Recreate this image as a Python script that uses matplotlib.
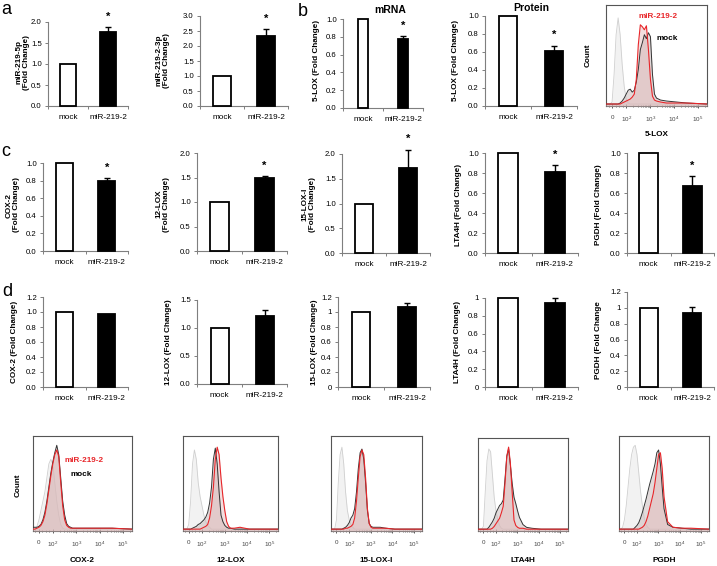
import matplotlib
matplotlib.use('Agg')
import matplotlib.pyplot as plt
import numpy as np

plt.rcParams['font.family'] = ['Liberation Sans', 'DejaVu Sans']
plt.rcParams['mathtext.default'] = 'regular'

W, H = 717, 566
fig = plt.figure(figsize=(W / 100, H / 100), dpi=100)

# ---------------- bar data ----------------
groups = ['mock', 'miR-219-2']
a_5p = [1.0, 1.77];   a_5p_err = [0.0, 0.11]
a_3p = [1.0, 2.33];   a_3p_err = [0.0, 0.22]
b_mrna = [1.0, 0.78]; b_mrna_err = [0.0, 0.03]
b_prot = [1.0, 0.61]; b_prot_err = [0.0, 0.06]
c_cox2 = [1.0, 0.80];  c_cox2_err = [0.0, 0.03]
c_12lox = [1.0, 1.49]; c_12lox_err = [0.0, 0.04]
c_15lox = [1.0, 1.71]; c_15lox_err = [0.0, 0.38]
c_lta4h = [1.0, 0.815]; c_lta4h_err = [0.0, 0.065]
c_pgdh = [1.0, 0.67];  c_pgdh_err = [0.0, 0.10]
d_cox2 = [1.0, 0.98];  d_cox2_err = [0.0, 0.0]
d_12lox = [1.0, 1.22]; d_12lox_err = [0.0, 0.11]
d_15lox = [1.0, 1.07]; d_15lox_err = [0.0, 0.05]
d_lta4h = [1.0, 0.94]; d_lta4h_err = [0.0, 0.055]
d_pgdh = [1.0, 0.94];  d_pgdh_err = [0.0, 0.07]

# ---------------- flow histogram data (channel grid, % of box height) ----------------
chan = [0, 20, 40, 60, 80, 100, 120, 140, 160, 180, 200, 220, 240, 260, 280, 300,
        320, 340, 360, 380, 400, 420, 440, 460, 480, 500, 540, 600, 700, 800, 1000]
flow_tick_chan = [60, 200, 437, 674, 910]
flow_tick_labels = ['0', '$10^2$', '$10^3$', '$10^4$', '$10^5$']

lox5_iso = [0, 0, 0, 2, 30, 70, 87, 70, 40, 18, 5, 1, 0, 0, 0, 0, 0, 0, 0, 0, 0, 0, 0, 0, 0, 0, 0, 0, 0, 0, 0]
lox5_mock = [0, 0, 0, 0, 0, 0, 0, 1, 3, 6, 10, 14, 15, 12, 14, 22, 35, 55, 62, 70, 66, 72, 68, 30, 10, 6, 4, 3, 2, 1, 0]
lox5_mir = [0, 0, 0, 0, 0, 0, 0, 0, 1, 2, 3, 4, 5, 7, 10, 25, 60, 80, 78, 75, 79, 55, 25, 8, 4, 3, 2, 1, 1, 1, 0]

cox2_iso = [0, 0, 3, 10, 20, 30, 40, 55, 70, 75, 70, 50, 30, 15, 5, 1, 0, 0, 0, 0, 0, 0, 0, 0, 0, 0, 0, 0, 0, 0, 0]
cox2_mock = [2, 2, 2, 3, 5, 10, 18, 30, 45, 60, 72, 82, 90, 80, 55, 30, 15, 6, 3, 2, 1, 1, 1, 1, 1, 1, 1, 1, 1, 1, 0]
cox2_mir = [0, 0, 1, 2, 4, 8, 15, 27, 42, 57, 70, 80, 85, 78, 50, 25, 10, 4, 2, 1, 1, 1, 1, 1, 1, 1, 1, 1, 1, 1, 0]

lox12_iso = [0, 0, 0, 5, 30, 70, 85, 75, 50, 35, 25, 15, 8, 4, 2, 0, 0, 0, 0, 0, 0, 0, 0, 0, 0, 0, 0, 0, 0, 0, 0]
lox12_mock = [0, 0, 0, 0, 0, 1, 2, 3, 5, 6, 8, 10, 13, 18, 28, 45, 75, 87, 70, 40, 15, 8, 4, 2, 1, 1, 0, 0, 0, 0, 0]
lox12_mir = [0, 0, 0, 0, 0, 0, 0, 0, 0, 0, 1, 2, 3, 5, 12, 25, 45, 75, 88, 80, 55, 35, 20, 8, 3, 1, 1, 2, 0, 0, 0]

lox15_iso = [0, 0, 0, 10, 50, 80, 88, 70, 40, 20, 10, 5, 2, 0, 0, 0, 0, 0, 0, 0, 0, 0, 0, 0, 0, 0, 0, 0, 0, 0, 0]
lox15_mock = [0, 0, 0, 0, 0, 0, 0, 1, 2, 4, 7, 12, 15, 22, 40, 65, 82, 86, 75, 50, 20, 6, 3, 2, 2, 2, 2, 1, 0, 0, 0]
lox15_mir = [0, 0, 0, 0, 0, 0, 0, 0, 1, 1, 2, 3, 5, 12, 30, 55, 78, 85, 80, 55, 22, 6, 2, 1, 1, 1, 1, 1, 0, 0, 0]

lta4h_iso = [0, 0, 0, 3, 40, 75, 88, 85, 60, 35, 20, 10, 4, 1, 0, 0, 0, 0, 0, 0, 0, 0, 0, 0, 0, 0, 0, 0, 0, 0, 0]
lta4h_mock = [0, 0, 0, 0, 0, 0, 2, 5, 8, 12, 18, 22, 26, 28, 32, 55, 80, 88, 70, 50, 35, 28, 20, 13, 9, 5, 2, 1, 0, 0, 0]
lta4h_mir = [0, 0, 0, 0, 0, 0, 0, 0, 1, 3, 6, 9, 12, 18, 25, 50, 80, 90, 72, 40, 10, 4, 2, 1, 1, 1, 0, 0, 0, 0, 0]

pgdh_iso = [0, 0, 2, 10, 25, 45, 65, 80, 88, 90, 80, 60, 40, 25, 12, 5, 2, 0, 0, 0, 0, 0, 0, 0, 0, 0, 0, 0, 0, 0, 0]
pgdh_mock = [0, 0, 0, 0, 0, 0, 0, 0, 0, 2, 4, 7, 12, 18, 25, 32, 40, 48, 55, 62, 70, 82, 85, 70, 45, 22, 5, 2, 1, 0, 0]
pgdh_mir = [0, 0, 0, 0, 0, 0, 0, 0, 0, 0, 0, 0, 1, 2, 4, 8, 14, 22, 30, 38, 50, 65, 80, 82, 65, 35, 8, 2, 1, 1, 0]

AXC = '#7f7f7f'
TICK_FS = 5.6
LAB_FS = 5.9


def px_axes(x0, y0, x1, y1):
    return fig.add_axes([x0 / W, 1 - y1 / H, (x1 - x0) / W, (y1 - y0) / H])


def bar_panel(rect, vals, errs, ylim, yticks, yticklabels, ylabel, ylabel_xy,
              bar_w=0.42, star=True):
    ax = px_axes(*rect)
    x = np.arange(len(groups))
    ax.bar(x, vals, width=bar_w, color=['white', 'black'], edgecolor='black',
           linewidth=1.3, zorder=3, clip_on=False)
    if errs[1] > 0:
        ax.errorbar(x[1], vals[1], yerr=[[0], [errs[1]]], fmt='none', ecolor='black',
                    elinewidth=1.0, capsize=2.5, capthick=1.0, zorder=2, clip_on=False)
    if star:
        ax.annotate('*', xy=(x[1], vals[1] + errs[1]), xytext=(0, 7.5),
                    textcoords='offset points', ha='center', va='center',
                    fontsize=8, fontweight='bold', annotation_clip=False)
    ax.set_xlim(-0.5, 1.5)
    ax.set_ylim(*ylim)
    ax.set_yticks(yticks)
    ax.set_yticklabels(yticklabels)
    ax.set_xticks(x)
    ax.set_xticklabels(groups)
    ax.set_xticks([-0.5, 0.5, 1.5], minor=True)
    ax.tick_params(axis='x', which='major', length=0, labelsize=LAB_FS, pad=6)
    ax.tick_params(axis='x', which='minor', length=2.5, width=0.7, color=AXC, direction='out')
    ax.tick_params(axis='y', length=2.5, width=0.7, color=AXC, labelsize=TICK_FS, pad=2)
    for s in ['top', 'right']:
        ax.spines[s].set_visible(False)
    for s in ['left', 'bottom']:
        ax.spines[s].set_color(AXC)
        ax.spines[s].set_linewidth(0.8)
    ax.patch.set_alpha(0)
    fig.text(ylabel_xy[0] / W, 1 - ylabel_xy[1] / H, ylabel, rotation=90,
             ha='center', va='center', fontsize=LAB_FS, fontweight='bold',
             multialignment='center', linespacing=1.1)
    return ax


def flow_panel(rect, iso, mock, mir, xlabel, xlabel_y, count_xy=None, legend_xy=None):
    ax = px_axes(*rect)
    ax.fill_between(chan, iso, -2, color='#f2f2f2', lw=0, zorder=1)
    ax.plot(chan, iso, color='#cfcfcf', lw=0.6, zorder=2)
    ax.fill_between(chan, mock, -2, color='#cbbdbd', alpha=0.55, lw=0, zorder=3)
    ax.fill_between(chan, mir, -2, color='#e3b8b8', alpha=0.45, lw=0, zorder=3)
    ax.plot(chan, mock, color='#333333', lw=0.7, zorder=4)
    ax.plot(chan, mir, color='#e8262a', lw=0.8, zorder=5)
    ax.set_xlim(0, 1000)
    ax.set_ylim(-2, 100)
    ax.set_yticks([])
    ax.set_xticks(flow_tick_chan)
    ax.set_xticklabels(flow_tick_labels)
    minor = []
    for dec in [2, 3, 4]:
        for k in range(2, 10):
            minor.append(200 + 237 * (dec - 2 + np.log10(k)))
    minor += [910 + 237 * np.log10(2)]
    minor += [95, 130, 165, 25]
    ax.set_xticks(minor, minor=True)
    ax.tick_params(axis='x', which='major', length=3, width=0.6, direction='inout',
                   labelsize=4.5, labelcolor='#444444', pad=5, color='#444444')
    ax.tick_params(axis='x', which='minor', length=1.8, width=0.5, direction='inout',
                   color='#444444')
    for s in ax.spines.values():
        s.set_color('#555555')
        s.set_linewidth(0.8)
    cx = (rect[0] + rect[2]) / 2
    fig.text(cx / W, 1 - xlabel_y / H, xlabel, ha='center', va='center',
             fontsize=LAB_FS, fontweight='bold')
    if count_xy:
        fig.text(count_xy[0] / W, 1 - count_xy[1] / H, 'Count', rotation=90,
                 ha='center', va='center', fontsize=LAB_FS, fontweight='bold')
    if legend_xy:
        (rx, ry), (mx, my) = legend_xy
        fig.text(rx / W, 1 - ry / H, 'miR-219-2', color='#e8262a', ha='center',
                 va='center', fontsize=LAB_FS, fontweight='bold')
        fig.text(mx / W, 1 - my / H, 'mock', color='black', ha='center',
                 va='center', fontsize=LAB_FS, fontweight='bold')
    return ax


t_02_10 = [0.0, 0.2, 0.4, 0.6, 0.8, 1.0]
l_02_10 = ['0.0', '0.2', '0.4', '0.6', '0.8', '1.0']
t_05_20 = [0.0, 0.5, 1.0, 1.5, 2.0]
l_05_20 = ['0.0', '0.5', '1.0', '1.5', '2.0']

# ----- row a / b -----
bar_panel((48, 22, 128, 106), a_5p, a_5p_err, (0, 2.0), t_05_20, l_05_20,
          'miR-219-5p\n(Fold Change)', (23, 62), bar_w=0.4)
bar_panel((200, 16, 288, 106), a_3p, a_3p_err, (0, 3.0),
          [0, 0.5, 1.0, 1.5, 2.0, 2.5, 3.0], ['0.0', '0.5', '1.0', '1.5', '2.0', '2.5', '3.0'],
          'miR-219-2-3p\n(Fold Change)', (163, 60), bar_w=0.42)
bar_panel((343, 19, 423, 108), b_mrna, b_mrna_err, (0, 1.0), t_02_10, l_02_10,
          '5-LOX (Fold Change)', (316, 60), bar_w=0.27)
bar_panel((485, 16, 577, 106), b_prot, b_prot_err, (0, 1.0), t_02_10, l_02_10,
          '5-LOX (Fold Change)', (455, 60), bar_w=0.37)
fig.text(390 / W, 1 - 10 / H, 'mRNA', ha='center', va='center', fontsize=7.5, fontweight='bold')
fig.text(531 / W, 1 - 8 / H, 'Protein', ha='center', va='center', fontsize=7.5, fontweight='bold')

flow_panel((606, 5, 707, 106), lox5_iso, lox5_mock, lox5_mir, '5-LOX', 135,
           count_xy=(588, 55), legend_xy=((658, 17), (667, 39)))

# ----- row c -----
bar_panel((43, 163, 128, 251), c_cox2, c_cox2_err, (0, 1.0), t_02_10, l_02_10,
          'COX-2\n(Fold Change)', (13, 205), bar_w=0.4)
bar_panel((197, 153, 287, 251), c_12lox, c_12lox_err, (0, 2.0), t_05_20, l_05_20,
          '12-LOX\n(Fold Change)', (163, 204), bar_w=0.44)
bar_panel((342, 154, 430, 253), c_15lox, c_15lox_err, (0, 2.0), t_05_20, l_05_20,
          '15-LOX-I\n(Fold Change)', (309, 204), bar_w=0.42)
bar_panel((485, 153, 578, 253), c_lta4h, c_lta4h_err, (0, 1.0), t_02_10, l_02_10,
          'LTA4H (Fold Change)', (458, 205), bar_w=0.42)
bar_panel((627, 153, 714, 253), c_pgdh, c_pgdh_err, (0, 1.0), t_02_10, l_02_10,
          'PGDH (Fold Change)', (599, 205), bar_w=0.43)

# ----- row d -----
bar_panel((43, 297, 128, 387), d_cox2, d_cox2_err, (0, 1.2),
          [0, 0.2, 0.4, 0.6, 0.8, 1.0, 1.2], ['0.0', '0.2', '0.4', '0.6', '0.8', '1.0', '1.2'],
          'COX-2 (Fold Change)', (15, 342), bar_w=0.4, star=False)
bar_panel((197, 300, 287, 384), d_12lox, d_12lox_err, (0, 1.5),
          [0, 0.5, 1.0, 1.5], ['0.0', '0.5', '1.0', '1.5'],
          '12-LOX (Fold Change)', (168, 342), bar_w=0.4, star=False)
bar_panel((338, 297, 430, 387), d_15lox, d_15lox_err, (0, 1.2),
          [0, 0.2, 0.4, 0.6, 0.8, 1.0, 1.2], ['0', '0.2', '0.4', '0.6', '0.8', '1', '1.2'],
          '15-LOX (Fold Change)', (315, 342), bar_w=0.4, star=False)
bar_panel((485, 298, 578, 387), d_lta4h, d_lta4h_err, (0, 1.0),
          [0, 0.2, 0.4, 0.6, 0.8, 1.0], ['0', '0.2', '0.4', '0.6', '0.8', '1'],
          'LTA4H (Fold Change)', (457, 342), bar_w=0.42, star=False)
bar_panel((627, 292, 714, 387), d_pgdh, d_pgdh_err, (0, 1.2),
          [0, 0.2, 0.4, 0.6, 0.8, 1.0, 1.2], ['0', '0.2', '0.4', '0.6', '0.8', '1', '1.2'],
          'PGDH (Fold Change', (598, 340), bar_w=0.42, star=False)

# ----- flow histograms row -----
flow_panel((33, 436, 132, 531), cox2_iso, cox2_mock, cox2_mir, 'COX-2', 560,
           count_xy=(18, 485), legend_xy=((84, 461), (81, 475)))
flow_panel((183, 436, 278, 531), lox12_iso, lox12_mock, lox12_mir, '12-LOX', 560)
flow_panel((331, 436, 422, 531), lox15_iso, lox15_mock, lox15_mir, '15-LOX-I', 560)
flow_panel((478, 438, 568, 531), lta4h_iso, lta4h_mock, lta4h_mir, 'LTA4H', 560)
flow_panel((619, 436, 709, 531), pgdh_iso, pgdh_mock, pgdh_mir, 'PGDH', 560)

# ----- panel letters -----
for letter, (lx, ly) in {'a': (6, 10), 'b': (303, 11), 'c': (6, 152), 'd': (7, 292)}.items():
    fig.text(lx / W, 1 - ly / H, letter, ha='center', va='center', fontsize=13)

fig.savefig('out.png', dpi=100)
